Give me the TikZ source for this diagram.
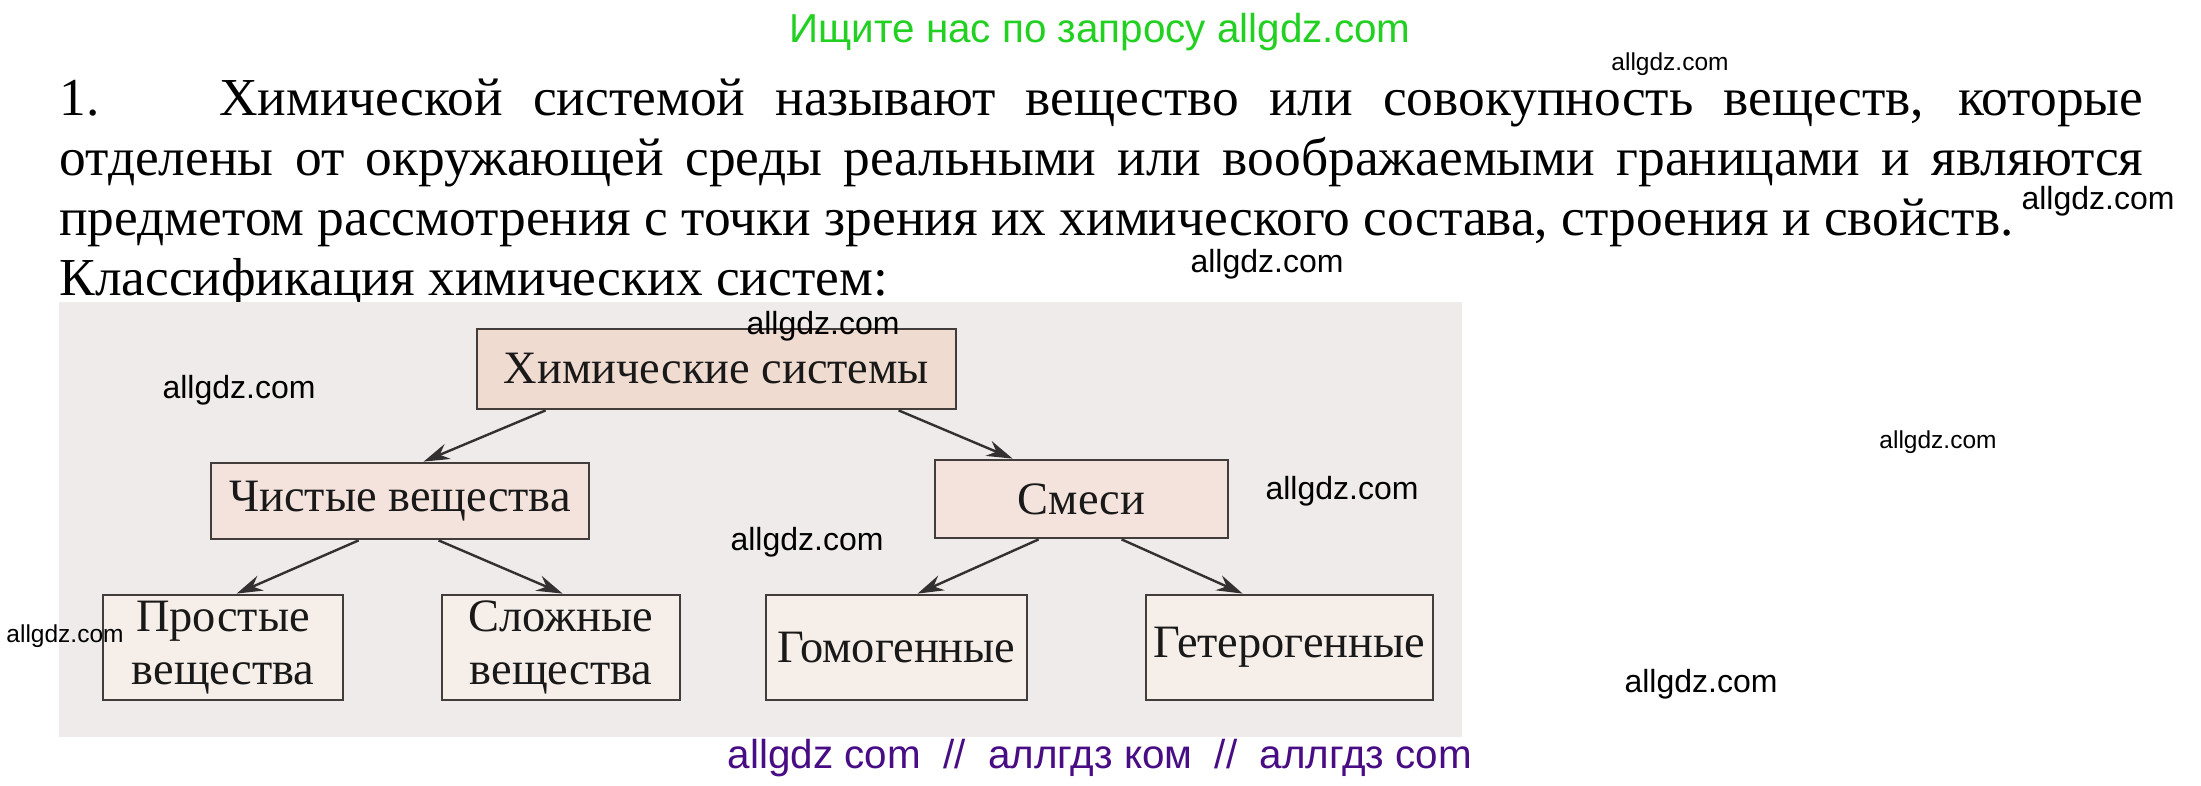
\documentclass[tikz,border=0pt]{standalone}
\usepackage{fontspec}
\setmainfont{Liberation Serif}
\newfontfamily\wmfont{Liberation Sans}
\usetikzlibrary{arrows.meta,calc}
\definecolor{hdrgreen}{RGB}{34,208,34}
\definecolor{wmpurple}{RGB}{72,12,132}
\definecolor{bggray}{RGB}{238,235,234}
\definecolor{fillA}{RGB}{240,219,208}
\definecolor{fillB}{RGB}{243,227,220}
\definecolor{fillC}{RGB}{246,238,232}
\definecolor{edgec}{RGB}{66,60,58}
\definecolor{arrowc}{RGB}{50,48,48}
\begin{document}
\begin{tikzpicture}[x=0.5pt,y=-0.5pt,
  box/.style={draw=edgec, line width=1.4pt, inner sep=0pt, font=\fontsize{23.2}{26.5}\selectfont, text=black!90, align=center},
  arr/.style={draw=arrowc, line width=1.2pt, -{Stealth[length=13pt,width=8pt]}},
  wmbig/.style={font=\wmfont\fontsize{16}{16}\selectfont, inner sep=0pt, text=black},
  wmsmall/.style={font=\wmfont\fontsize{12.25}{12.25}\selectfont, inner sep=0pt, text=black}]
\useasboundingbox (0,0) rectangle (2201,786);
\fill[white] (0,0) rectangle (2201,786);
% header
\node[font=\wmfont\fontsize{20.2}{20}\selectfont, text=hdrgreen, anchor=base, inner sep=0pt] (hdr) at (1100,43) {Ищите нас по запросу allgdz.com};
% paragraph
\node[anchor=base west, inner sep=0pt] (para) at (59,116) {\begin{minipage}[t]{1042pt}\fontsize{26.7}{30}\selectfont\parindent=0pt 1.\hspace{60pt}Химической системой называют вещество или совокупность веществ, которые\linebreak отделены от окружающей среды реальными или воображаемыми границами и являются\linebreak предметом рассмотрения с точки зрения их химического состава, строения и свойств.\par Классификация химических систем:\end{minipage}};
% diagram background
\fill[bggray] (59,302) rectangle (1462,737);
% boxes
\node[box, fill=fillA, minimum width=239.5pt, minimum height=40pt] (top) at (716.5,369) {Химические системы};
\node[box, fill=fillB, minimum width=189pt, minimum height=38pt] (chist) at (400,501) {Чистые вещества};
\node[box, fill=fillB, minimum width=146.5pt, minimum height=39pt] (smesi) at (1081.5,499) {Смеси};
\node[box, fill=fillC, minimum width=120pt, minimum height=52.5pt] (prost) at (223,647.5) {Простые\\вещества};
\node[box, fill=fillC, minimum width=119pt, minimum height=52.5pt] (slozh) at (561,647.5) {Сложные\\вещества};
\node[box, fill=fillC, minimum width=130.5pt, minimum height=52.5pt] (gomo) at (896.5,647.5) {Гомогенные};
\node[box, fill=fillC, minimum width=143.5pt, minimum height=52.5pt] (getero) at (1289.5,647.5) {Гетерогенные};
% arrows
\draw[arr] ($(top.south west)+(70,0)$) -- ($(chist.north west)+(214,0)$);
\draw[arr] ($(top.south west)+(423,0)$) -- ($(smesi.north west)+(79,0)$);
\draw[arr] ($(chist.south west)+(149,0)$) -- ($(prost.north west)+(135,0)$);
\draw[arr] ($(chist.south west)+(229,0)$) -- ($(slozh.north west)+(122,0)$);
\draw[arr] ($(smesi.south west)+(105,0)$) -- ($(gomo.north west)+(153,0)$);
\draw[arr] ($(smesi.south west)+(188,0)$) -- ($(getero.north west)+(98,0)$);
% footer
\node[font=\wmfont\fontsize{20.2}{20}\selectfont, text=wmpurple, anchor=base, inner sep=0pt] (foot) at (1100,768) {allgdz com\ \ //\ \ аллгдз ком\ \ //\ \ аллгдз com};
% watermarks
\node[wmsmall] (w1) at (1670,64) {allgdz.com};
\node[wmbig] (w2) at (2098,201) {allgdz.com};
\node[wmbig] (w3) at (1267,264) {allgdz.com};
\node[wmbig] (w4) at (823,326) {allgdz.com};
\node[wmbig] (w5) at (239,390) {allgdz.com};
\node[wmsmall] (w6) at (1938,442) {allgdz.com};
\node[wmbig] (w7) at (1342,491) {allgdz.com};
\node[wmbig] (w8) at (807,542) {allgdz.com};
\node[wmsmall] (w9) at (65,636) {allgdz.com};
\node[wmbig] (w10) at (1701,684) {allgdz.com};
\end{tikzpicture}
\end{document}
